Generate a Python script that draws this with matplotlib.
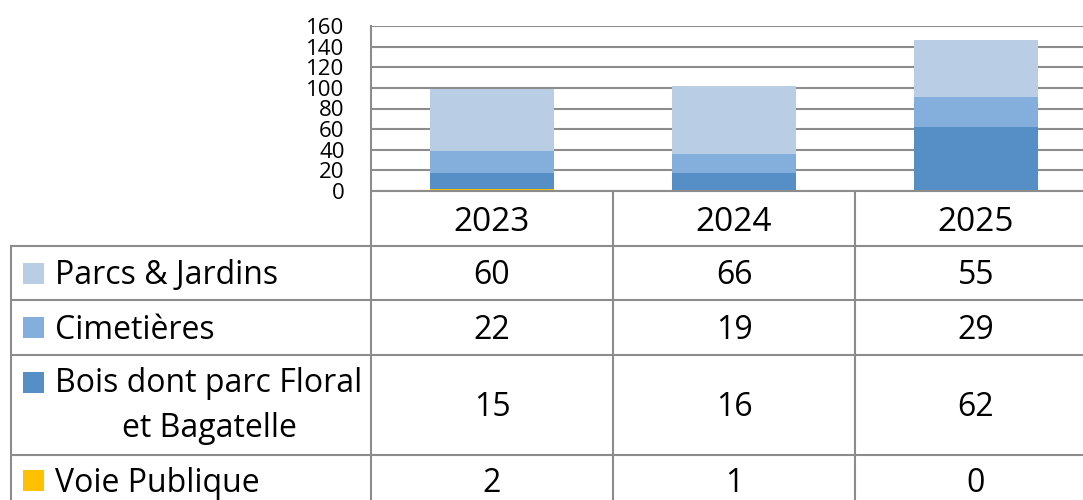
import matplotlib.pyplot as plt
import matplotlib.transforms as mtransforms
import numpy as np

years = ["2023", "2024", "2025"]
series = ["Parcs & Jardins", "Cimetières", "Bois dont parc Floral\net Bagatelle", "Voie Publique"]
parcs = [60, 66, 55]
cimetieres = [22, 19, 29]
bois = [15, 16, 62]
voie = [2, 1, 0]
yticks = [0, 20, 40, 60, 80, 100, 120, 140, 160]

colors = ["#b9cde5", "#84aedb", "#558fc6", "#ffc000"]
grid_c = "#8c8c8c"
W, H = 1083, 500

plt.rcParams["font.family"] = ["Open Sans", "DejaVu Sans"]
fig = plt.figure(figsize=(W / 100, H / 100), dpi=100)
fig.patch.set_facecolor("white")

# bar area in pixels: left 371, top 26, bottom 191, column width 242
col_w = 242
ax = fig.add_axes([371 / W, (H - 191) / H, 3 * col_w / W, 165 / H])
ax.set_xlim(-0.5, 2.5)
ax.set_ylim(0, 160)

x = np.arange(len(years))
bottom = np.zeros(len(years))
# stacked from bottom: Voie, Bois, Cimetieres, Parcs
for vals, c in [(voie, colors[3]), (bois, colors[2]), (cimetieres, colors[1]), (parcs, colors[0])]:
    ax.bar(x, vals, 0.51, bottom=bottom, color=c, edgecolor="none", zorder=3)
    bottom += np.asarray(vals, dtype=float)

ax.set_yticks(yticks)
ax.set_xticks([])
ax.yaxis.grid(True, color=grid_c, linewidth=1.5, zorder=0)
ax.tick_params(axis="y", length=0, pad=19, labelsize=16)
for s in ["top", "right", "bottom"]:
    ax.spines[s].set_visible(False)
ax.spines["left"].set_color(grid_c)
ax.spines["left"].set_linewidth(1.5)

# overlay for the data table, y in pixels from top
ov = fig.add_axes([0, 0, 1, 1])
ov.set_xlim(0, W)
ov.set_ylim(H, 0)
ov.axis("off")
ov.patch.set_alpha(0)
tr = mtransforms.blended_transform_factory(ax.transData, ov.transData)

lw = 1.5
right = W + 20
row_edges = [246, 300, 355, 455, 505]
ov.plot([371, right], [191, 191], color=grid_c, lw=lw, solid_capstyle="butt")
for yy in row_edges[:-1]:
    ov.plot([11, right], [yy, yy], color=grid_c, lw=lw, solid_capstyle="butt")
ov.plot([11, 11], [246, H + 10], color=grid_c, lw=lw)
ov.plot([371, 371], [191, H + 10], color=grid_c, lw=lw)
for i in range(1, len(years)):
    ov.plot([i - 0.5, i - 0.5], [191, H + 10], color=grid_c, lw=lw, transform=tr)

fs = 23
for i, yr in enumerate(years):
    ov.text(i, 231, yr, transform=tr, ha="center", va="baseline", fontsize=24)

table = [parcs, cimetieres, bois, voie]
for r, (name, vals, c) in enumerate(zip(series, table, colors)):
    top, bot = row_edges[r], row_edges[r + 1]
    mid = (top + bot) / 2
    if "\n" in name:
        ov.add_patch(plt.Rectangle((23, 371.5), 21, 21, color=c, lw=0))
        ov.text(55, 392, name.split("\n")[0], ha="left", va="baseline", fontsize=fs)
        ov.text(209, 437, name.split("\n")[1], ha="center", va="baseline", fontsize=fs)
    else:
        ov.add_patch(plt.Rectangle((23, mid - 10.5), 21, 21, color=c, lw=0))
        ov.text(55, mid + 11.5, name, ha="left", va="baseline", fontsize=fs)
    for i, v in enumerate(vals):
        ov.text(i, mid + 11.5, str(v), transform=tr, ha="center", va="baseline", fontsize=fs)

fig.savefig("out.png", dpi=100, facecolor="white")
